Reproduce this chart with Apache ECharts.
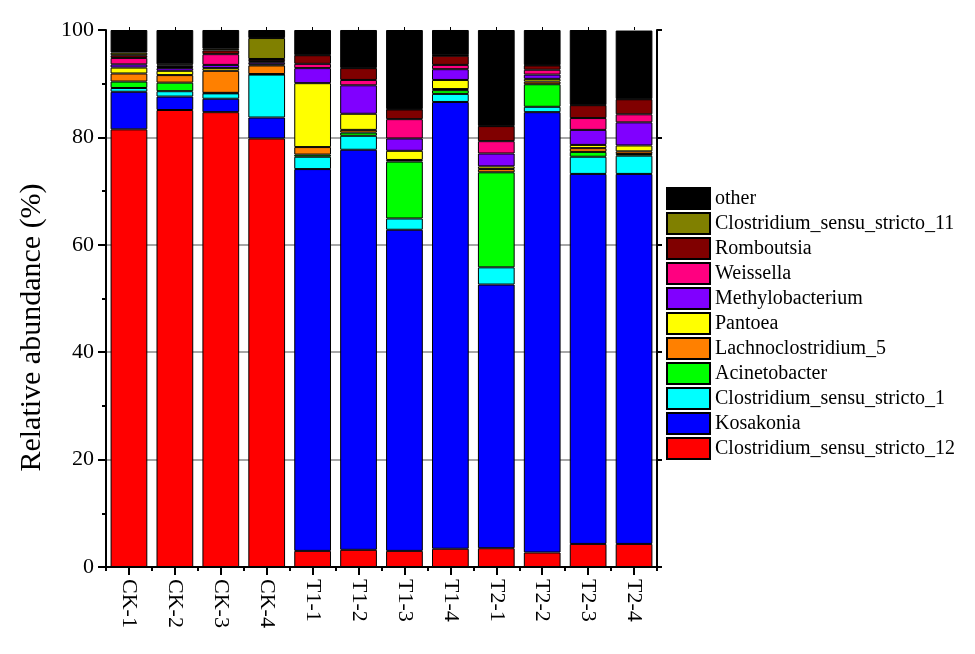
<!DOCTYPE html>
<html>
<head>
<meta charset="utf-8">
<script src="https://cdn.jsdelivr.net/npm/echarts@6/dist/echarts.min.js"></script>
<style>html,body{margin:0;padding:0;background:#fff}#c{width:975px;height:654px}</style>
</head>
<body>
<div id="c"></div>
<script>
const categories = ['CK-1','CK-2','CK-3','CK-4','T1-1','T1-2','T1-3','T1-4','T2-1','T2-2','T2-3','T2-4'];
const yTicks = [0, 20, 40, 60, 80, 100];
const clostridium12 = [81.5, 85.1, 84.7, 79.8, 3.0, 3.2, 3.0, 3.4, 3.5, 2.7, 4.3, 4.3];
const kosakonia     = [7.0, 2.5, 2.5, 3.9, 71.1, 74.5, 59.8, 83.2, 49.1, 82.0, 68.9, 68.9];
const clostridium1  = [0.7, 1.0, 1.0, 8.0, 2.3, 2.6, 2.1, 1.5, 3.2, 1.0, 3.2, 3.4];
const acinetobacter = [1.2, 1.6, 0.1, 0.1, 0.4, 0.6, 10.6, 0.7, 17.7, 4.2, 0.9, 0.3];
const lachno5       = [1.5, 1.4, 4.1, 1.6, 1.4, 0.5, 0.3, 0.2, 0.6, 0.5, 0.7, 0.5];
const pantoea       = [1.1, 0.8, 0.5, 0.2, 11.9, 3.0, 1.7, 1.7, 0.5, 0.5, 0.6, 1.1];
const methylo       = [0.6, 0.5, 0.6, 0.4, 2.8, 5.3, 2.3, 2.0, 2.4, 0.8, 2.8, 4.3];
const weissella     = [1.2, 0.2, 2.0, 0.2, 0.8, 1.0, 3.6, 0.8, 2.3, 0.9, 2.2, 1.5];
const romboutsia    = [0.5, 0.3, 0.7, 0.4, 1.6, 2.2, 1.8, 1.7, 2.8, 0.8, 2.4, 2.8];
const clostridium11 = [0.5, 0.2, 0.3, 3.9, 0.1, 0.1, 0.1, 0.1, 0.1, 0.1, 0.1, 0.1];
const other         = [4.2, 6.4, 3.5, 1.5, 4.6, 7.0, 14.7, 4.7, 17.8, 6.5, 13.9, 12.7];

const seriesDefs = [
  ['Clostridium_sensu_stricto_12', clostridium12, '#FF0000'],
  ['Kosakonia', kosakonia, '#0000FF'],
  ['Clostridium_sensu_stricto_1', clostridium1, '#00FFFF'],
  ['Acinetobacter', acinetobacter, '#00FF00'],
  ['Lachnoclostridium_5', lachno5, '#FF8000'],
  ['Pantoea', pantoea, '#FFFF00'],
  ['Methylobacterium', methylo, '#8000FF'],
  ['Weissella', weissella, '#FF0080'],
  ['Romboutsia', romboutsia, '#800000'],
  ['Clostridium_sensu_stricto_11', clostridium11, '#808000'],
  ['other', other, '#000000']
];

const font = 'Liberation Serif';
const chart = echarts.init(document.getElementById('c'), null, {renderer: 'canvas'});
chart.setOption({
  animation: false,
  backgroundColor: '#fff',
  grid: {left: 106, right: 318, top: 30, bottom: 87},
  legend: {
    orient: 'vertical', left: 661, top: 182,
    itemWidth: 43, itemHeight: 21, itemGap: 2,
    icon: 'rect',
    textStyle: {fontFamily: font, fontSize: 20, color: '#000'},
    data: seriesDefs.map(d => d[0]).reverse()
  },
  xAxis: [
    {
      type: 'category', data: categories, position: 'bottom',
      axisLine: {show: true, lineStyle: {color: '#000', width: 2}},
      axisTick: {show: true, alignWithLabel: true, length: 8, lineStyle: {color: '#000', width: 2}},
      axisLabel: {rotate: -90, margin: 12, fontFamily: font, fontSize: 22, color: '#000'}
    },
    {
      type: 'category', data: categories, position: 'bottom',
      axisLine: {show: false},
      axisTick: {show: true, length: 4, lineStyle: {color: '#000', width: 2}},
      axisLabel: {show: false}
    },
    {
      type: 'category', data: categories, position: 'top',
      axisLine: {show: false},
      axisTick: {show: true, alignWithLabel: true, length: 3, lineStyle: {color: '#000', width: 1}},
      axisLabel: {show: false}
    }
  ],
  yAxis: [
    {
      type: 'value', min: 0, max: 100, interval: 20,
      name: 'Relative abundance (%)', nameLocation: 'middle', nameGap: 59,
      nameTextStyle: {fontFamily: font, fontSize: 30, color: '#000', padding: [0, 58, 0, 0]},
      axisLine: {show: true, lineStyle: {color: '#000', width: 2}},
      axisTick: {show: true, length: 8, lineStyle: {color: '#000', width: 2}},
      minorTick: {show: true, splitNumber: 2, length: 4, lineStyle: {color: '#000', width: 2}},
      axisLabel: {margin: 12, fontFamily: font, fontSize: 22, color: '#000',
        formatter: v => yTicks.includes(v) ? String(v) : ''},
      splitLine: {show: true, lineStyle: {color: ['#888','#888','#888','#888','#888','rgba(0,0,0,0)'], width: 1.5}}
    },
    {
      type: 'value', min: 0, max: 100, interval: 20, position: 'right',
      axisLine: {show: true, lineStyle: {color: '#000', width: 2}},
      axisTick: {show: true, length: 5, lineStyle: {color: '#000', width: 2}},
      axisLabel: {show: false},
      splitLine: {show: false}
    }
  ],
  series: seriesDefs.map(([name, data, color]) => ({
    name, type: 'bar', stack: 'total', data,
    xAxisIndex: 0, yAxisIndex: 0,
    barCategoryGap: '20%',
    itemStyle: {color, borderColor: '#000', borderWidth: 1}
  }))
});
</script>
</body>
</html>
